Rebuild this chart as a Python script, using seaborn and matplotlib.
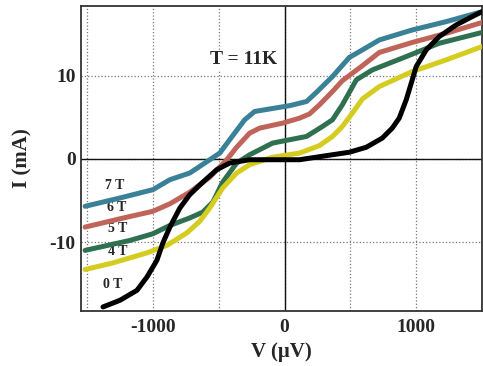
import numpy as np
import matplotlib
matplotlib.use("Agg")
import matplotlib.pyplot as plt
import seaborn as sns
import pandas as pd

# I-V curves, V in uV, I in mA
v_7T = [-1515, -1250, -1000, -871, -720, -568, -492, -417, -303, -227, -114, 38, 167, 242, 364, 492, 591, 720, 970, 1227, 1500]
i_7T = [-5.7, -4.7, -3.7, -2.5, -1.7, -0.1, 0.7, 2.3, 4.7, 5.7, 6.0, 6.4, 6.9, 8.0, 9.9, 12.2, 13.1, 14.3, 15.5, 16.5, 17.7]

v_6T = [-1515, -1250, -1000, -871, -720, -568, -439, -364, -265, -189, -15, 114, 189, 265, 364, 439, 591, 720, 970, 1227, 1500]
i_6T = [-8.2, -7.2, -6.3, -5.4, -4.0, -2.2, -0.1, 1.4, 3.1, 3.7, 4.3, 4.9, 5.4, 6.5, 8.1, 9.4, 11.2, 12.8, 14.0, 15.1, 16.4]

v_5T = [-1515, -1174, -1000, -871, -720, -621, -545, -470, -364, -265, -91, 167, 288, 364, 439, 545, 667, 924, 1174, 1500]
i_5T = [-11.0, -9.8, -9.0, -8.0, -7.1, -6.4, -5.2, -2.8, -0.5, 0.5, 1.9, 2.7, 3.9, 4.7, 6.5, 9.5, 10.7, 12.3, 13.9, 15.2]

v_4T = [-1515, -1303, -1045, -894, -742, -644, -568, -470, -364, -265, -91, 114, 265, 364, 439, 515, 591, 720, 970, 1227, 1500]
i_4T = [-13.3, -12.5, -11.3, -10.4, -8.9, -7.5, -5.9, -3.5, -1.7, -0.7, 0.2, 0.7, 1.6, 2.7, 3.9, 5.5, 7.2, 8.7, 10.5, 11.9, 13.5]

v_0T = [-1379, -1250, -1121, -1045, -970, -924, -871, -795, -720, -621, -515, -417, -265, -15, 114, 364, 492, 621, 742, 818, 871, 924, 970, 1000, 1076, 1174, 1303, 1424, 1500]
i_0T = [-17.8, -17.0, -15.8, -14.2, -12.2, -10.1, -8.2, -5.9, -4.3, -2.8, -1.3, -0.5, -0.1, -0.1, -0.1, 0.5, 0.8, 1.4, 2.5, 3.7, 4.9, 7.1, 9.5, 11.1, 13.1, 14.7, 16.1, 17.1, 17.7]

fields = ['7 T', '6 T', '5 T', '4 T', '0 T']
colors = ['#3a8096', '#c0645a', '#2f7050', '#d4cc1e', '#000000']
label_x = [-1288, -1273, -1265, -1265, -1303]
label_y = [-3.25, -5.9, -8.4, -11.1, -15.1]

df = pd.concat([
    pd.DataFrame({'V': v_7T, 'I': i_7T, 'B': '7 T'}),
    pd.DataFrame({'V': v_6T, 'I': i_6T, 'B': '6 T'}),
    pd.DataFrame({'V': v_5T, 'I': i_5T, 'B': '5 T'}),
    pd.DataFrame({'V': v_4T, 'I': i_4T, 'B': '4 T'}),
    pd.DataFrame({'V': v_0T, 'I': i_0T, 'B': '0 T'}),
], ignore_index=True)

sns.set_style("white")
plt.rcParams['font.family'] = ['Liberation Serif', 'DejaVu Serif']

fig = plt.figure(figsize=(4.83, 3.66), dpi=100)
ax = fig.add_axes([0.168, 0.150, 0.830, 0.834])

# grid first so the curves sit on top
ax.set_xticks([-1000, 0, 1000])
ax.set_xticks([-1500, -500, 500, 1500], minor=True)
ax.set_yticks([-10, 0, 10])
ax.grid(True, which='both', axis='x', linestyle=':', color='#777777', linewidth=0.9)
ax.grid(True, which='major', axis='y', linestyle=':', color='#777777', linewidth=0.9)
ax.axhline(0, color='#111111', linewidth=1.0, zorder=1)
ax.axvline(0, color='#111111', linewidth=1.0, zorder=1)

sns.lineplot(data=df, x='V', y='I', hue='B', palette=dict(zip(fields, colors)),
             linewidth=3.6, legend=False, ax=ax, zorder=3)

for name, x, y in zip(fields, label_x, label_y):
    ax.text(x, y, name, fontsize=10, fontweight='bold', ha='center', va='center',
            bbox=dict(facecolor='white', edgecolor='none', pad=0.5), zorder=2)

ax.text(-311, 11.9, 'T = 11K', fontsize=14, fontweight='bold', ha='center', va='center',
        bbox=dict(facecolor='white', edgecolor='none', pad=1), zorder=2)

ax.set_xlim(-1545, 1500)
ax.set_ylim(-18.3, 18.4)
ax.set_xlabel('V (\u03bcV)', fontsize=15, fontweight='bold', labelpad=4)
ax.set_ylabel('I (mA)', fontsize=15, fontweight='bold', labelpad=12)
ax.tick_params(axis='x', which='both', length=0, labelsize=14, pad=6)
ax.tick_params(axis='y', which='both', length=0, labelsize=14, pad=4)
ax.set_xticklabels(['-1000', '0', '1000'])
ax.set_yticklabels(['-10', '0', '10'])
for lab in ax.get_xticklabels() + ax.get_yticklabels():
    lab.set_fontweight('bold')

for s in ax.spines.values():
    s.set_color('#333333')
    s.set_linewidth(1.3)

fig.savefig('out.png', dpi=100)
